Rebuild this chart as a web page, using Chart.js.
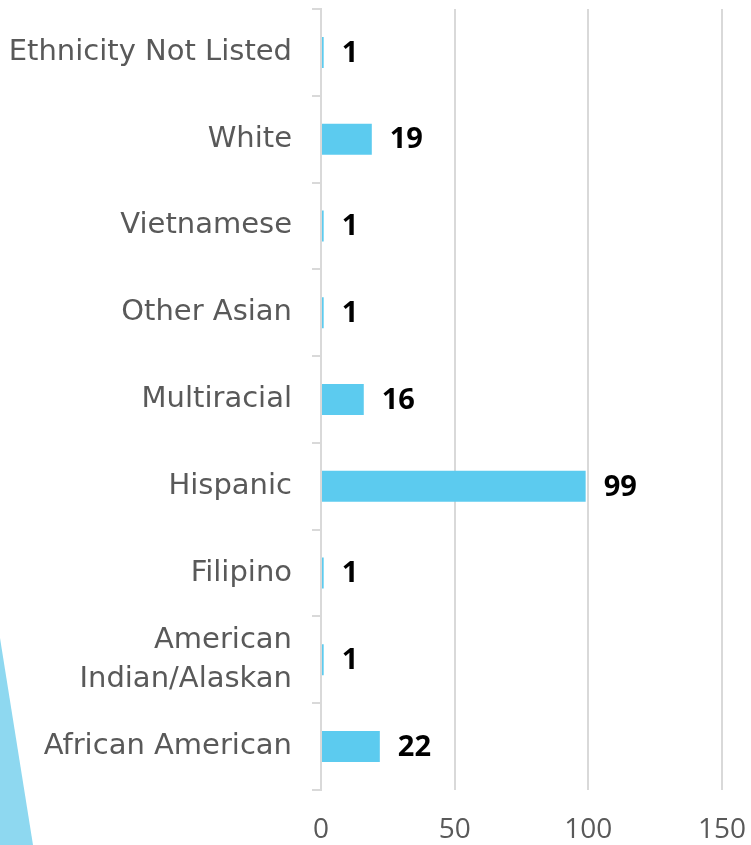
<!DOCTYPE html>
<html>
  <head>
    <meta charset="UTF-8" />
    <title>Students by Ethnicity</title>
    <style>
      html, body { margin: 0; padding: 0; background: #fff; }
      #wrap { position: relative; width: 751px; height: 845px; overflow: hidden; }
      /* light blue slide accent in the lower left corner */
      #accent {
        position: absolute; left: 0; top: 0; width: 751px; height: 845px;
        background: #8ed8f0;
        clip-path: polygon(0 638px, 33px 845px, 0 845px);
      }
      #chart { position: absolute; left: 0; top: 0; }
    </style>
  </head>
  <body>
    <div id="wrap">
      <div id="accent"></div>
      <canvas id="chart" width="751" height="845"></canvas>
    </div>
    <script src="https://cdn.jsdelivr.net/npm/chart.js"></script>
    <script>
      const categories = [
        'Ethnicity Not Listed',
        'White',
        'Vietnamese',
        'Other Asian',
        'Multiracial',
        'Hispanic',
        'Filipino',
        ['American', 'Indian/Alaskan'],
        'African American',
      ];
      const students = [1, 19, 1, 1, 16, 99, 1, 1, 22];
      const xTicks = [0, 50, 100, 150];

      const LABEL_FONT = '"DejaVu Sans", sans-serif';
      const NUM_FONT = '"Open Sans", sans-serif';

      // Bold value printed just past the end of each bar
      const valueLabels = {
        id: 'valueLabels',
        afterDatasetsDraw(chart) {
          const c = chart.ctx;
          const meta = chart.getDatasetMeta(0);
          c.save();
          c.font = 'bold 29px ' + NUM_FONT;
          c.fillStyle = '#000';
          c.textAlign = 'left';
          c.textBaseline = 'middle';
          meta.data.forEach((bar, i) => {
            c.fillText(String(students[i]), bar.x + 18, bar.y + 1);
          });
          c.restore();
        },
      };

      const ctx = document.getElementById('chart').getContext('2d');
      new Chart(ctx, {
        type: 'bar',
        data: {
          labels: categories,
          datasets: [
            {
              data: students,
              backgroundColor: '#5ccbef',
              borderWidth: 0,
              categoryPercentage: 1,
              barPercentage: 0.357,
            },
          ],
        },
        options: {
          indexAxis: 'y',
          responsive: false,
          animation: false,
          layout: { padding: { top: 9, right: 29, left: 0, bottom: 0 } },
          plugins: {
            legend: { display: false },
            tooltip: { enabled: false },
          },
          scales: {
            x: {
              min: 0,
              max: 150,
              afterBuildTicks(axis) {
                axis.ticks = xTicks.map((v) => ({ value: v }));
              },
              afterFit(axis) {
                axis.height = 55;
                axis.paddingLeft = 0;
                axis.paddingRight = 0;
              },
              grid: { color: '#d9d9d9', lineWidth: 2, drawTicks: false },
              border: { display: false },
              ticks: {
                color: '#595959',
                font: { family: NUM_FONT, size: 28 },
                padding: 23,
              },
            },
            y: {
              afterFit(axis) {
                axis.width = 321;
                axis.paddingTop = 0;
                axis.paddingBottom = 0;
              },
              grid: {
                offset: true,
                drawOnChartArea: false,
                color: '#d9d9d9',
                lineWidth: 2,
                tickLength: 9,
              },
              border: { display: true, color: '#d9d9d9', width: 2 },
              ticks: {
                color: '#595959',
                font: { family: LABEL_FONT, size: 29, lineHeight: 1.32 },
                padding: 20,
              },
            },
          },
        },
        plugins: [valueLabels],
      });
    </script>
  </body>
</html>
